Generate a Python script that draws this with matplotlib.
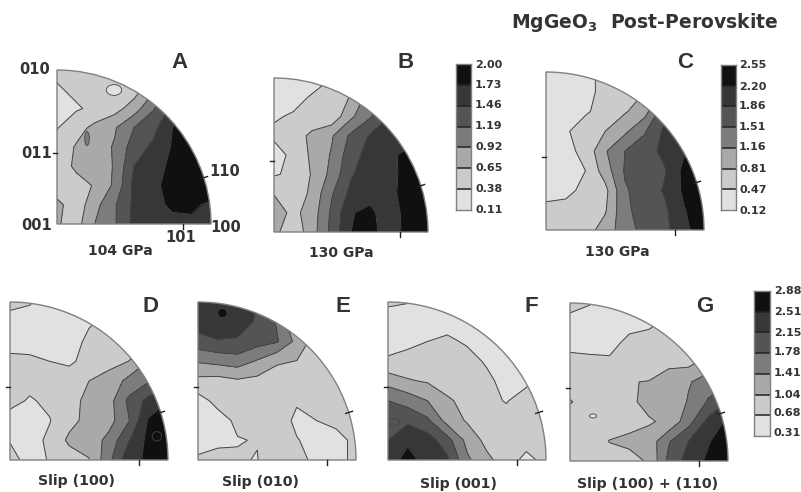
import numpy as np
import matplotlib
matplotlib.use("Agg")
import matplotlib.pyplot as plt
from matplotlib.colors import ListedColormap
from matplotlib.patches import Wedge, Ellipse

W, H = 801, 492
plt.rcParams['font.family'] = 'DejaVu Sans'
plt.rcParams['mathtext.fontset'] = 'dejavusans'

band_colors = ['#e1e1e1', '#cbcbcb', '#a9a9a9', '#7c7c7c', '#545454', '#373737', '#101010']
band_edges = [-1, 1, 2, 3, 4, 5, 6, 9]

# pole-figure intensity read on a 9x9 grid (bottom row first), in units of colour band
panel_a = [[2.1,1.6,3.05,3.9,5.3,5.6,5.7,5.8,5.95],
           [2.3,1.4,2.7,3.9,5.2,5.7,6.2,6.2,5.8],
           [1.3,1.6,2.1,3.2,5.3,5.7,6.5,6.8,6.8],
           [1.4,2.2,2.3,3.1,5.0,5.5,6.3,6.9,7.0],
           [1.3,2.1,2.5,3.1,4.5,5.2,6.1,6.9,7.0],
           [0.95,1.6,2.3,2.9,4.0,4.7,6.0,6.9,7.0],
           [0.6,0.9,1.2,1.6,2.5,3.9,5.3,6.5,7.0],
           [0.9,1.2,1.2,1.1,1.5,2.8,4.5,6.0,7.0],
           [1.2,1.2,1.2,1.2,1.3,2.0,4.0,6.0,7.0]]
panel_b = [[2.3,1.3,2.6,4.3,6.0,6.4,5.4,6.4,6.5],
           [2.6,1.7,2.5,4.2,5.95,6.2,5.5,6.4,6.6],
           [1.95,1.2,2.3,3.9,5.3,5.7,5.7,6.5,6.6],
           [0.9,1.2,2.1,3.3,4.9,5.5,5.7,6.4,6.8],
           [0.5,1.3,2.2,3.1,4.6,5.4,5.8,6.3,6.0],
           [1.2,1.4,2.3,2.9,4.2,5.1,5.3,5.5,6.0],
           [0.9,1.1,1.2,1.3,2.8,3.9,5.0,5.5,6.0],
           [0.4,0.7,1.1,1.2,2.1,3.5,5.0,5.5,6.0],
           [0.3,0.3,0.6,1.0,1.4,2.0,4.0,5.5,6.0]]
panel_c = [[1.2,1.3,1.6,2.4,3.6,4.3,4.7,5.8,6.5],
           [1.3,1.2,1.4,1.9,3.8,4.4,4.8,5.95,6.6],
           [0.6,0.85,1.15,1.7,3.9,4.4,5.1,6.2,6.8],
           [0.4,0.6,1.0,2.5,4.1,4.5,4.9,6.3,6.9],
           [0.3,0.7,1.3,2.9,4.0,4.5,5.3,5.9,6.8],
           [0.3,0.9,1.4,2.0,2.8,3.9,5.2,5.6,6.5],
           [0.3,0.5,0.9,1.3,1.9,2.6,4.7,5.5,6.0],
           [0.3,0.4,0.8,1.2,1.5,2.0,4.0,5.5,6.0],
           [0.3,0.3,0.8,1.2,1.4,1.8,3.5,5.0,6.0]]
panel_d = [[1.3,0.7,1.05,1.5,1.95,3.7,5.7,6.15,6.8],
           [0.95,0.6,1.2,2.2,2.4,3.3,4.9,6.3,7.0],
           [0.6,0.5,0.95,1.7,2.3,2.6,3.9,6.1,6.8],
           [1.3,0.9,1.2,1.6,2.3,2.6,4.2,5.3,6.0],
           [1.3,1.3,1.4,1.6,2.0,2.3,3.3,3.9,4.5],
           [1.2,1.2,1.0,0.8,1.4,1.75,2.0,3.0,3.5],
           [0.7,0.6,0.4,0.6,1.2,1.4,1.6,2.0,2.5],
           [0.6,0.5,0.4,0.6,0.9,1.2,1.3,1.5,2.0],
           [1.3,1.1,0.5,0.5,0.7,0.9,1.2,1.4,1.5]]
panel_e = [[1.15,1.3,1.1,0.95,2.0,1.4,0.7,0.6,1.3],
           [0.6,0.8,0.95,1.05,1.4,1.05,0.7,0.6,1.3],
           [0.5,0.6,1.2,1.4,1.5,0.8,1.0,1.3,1.4],
           [0.6,1.3,1.5,1.6,1.5,1.1,1.3,1.5,1.5],
           [1.7,1.6,1.85,1.7,1.6,1.6,1.6,1.5,1.5],
           [3.1,3.3,3.5,2.9,2.1,1.98,1.9,1.6,1.5],
           [4.6,4.9,4.9,4.4,4.1,2.7,1.5,1.5,1.5],
           [5.5,5.85,5.4,4.9,3.9,1.9,1.5,1.5,1.5],
           [5.3,5.7,5.4,5.0,4.0,2.0,1.5,1.5,1.5]]
panel_f = [[5.5,6.4,5.6,5.2,3.2,2.25,1.5,0.7,1.3],
           [5.0,5.8,5.5,4.4,2.7,1.7,1.4,1.4,1.4],
           [4.4,4.8,4.2,2.6,1.9,1.4,1.3,1.4,1.4],
           [4.0,3.6,3.0,2.05,1.9,1.2,0.95,1.4,1.4],
           [2.6,2.1,1.9,1.85,1.8,1.2,0.7,0.8,1.4],
           [1.15,1.3,1.4,1.4,1.3,0.9,0.5,0.5,1.2],
           [0.6,0.8,1.0,1.15,0.9,0.5,0.4,0.4,0.8],
           [0.4,0.4,0.5,0.7,0.6,0.4,0.4,0.4,0.5],
           [1.2,1.05,0.5,0.4,0.4,0.4,0.4,0.4,0.4]]
panel_g = [[1.2,1.3,1.3,1.7,2.1,4.3,5.4,6.2,6.7],
           [1.3,1.3,2.05,2.2,2.4,3.9,5.0,5.9,6.8],
           [1.3,1.2,1.3,1.7,1.9,2.2,3.6,5.3,6.2],
           [2.1,1.4,1.5,1.8,2.3,2.1,3.1,4.1,5.0],
           [1.3,1.3,1.4,1.95,2.05,2.4,2.9,3.5,4.0],
           [1.2,1.2,1.2,1.1,1.3,1.8,1.7,2.4,3.0],
           [0.8,0.7,0.6,1.3,1.4,1.5,1.5,1.7,2.0],
           [0.7,0.6,0.5,0.6,0.8,1.2,1.3,1.4,1.5],
           [1.3,1.05,0.5,0.5,0.7,0.9,1.1,1.2,1.3]]

# small closed contours too small for the grid: x, y, width, height, band
spots_a = [(0.195,0.555,0.03,0.09,3), (0.37,0.87,0.10,0.07,0)]
spots_b = []
spots_c = []
spots_d = [(0.93,0.15,0.06,0.06,6)]
spots_e = [(0.155,0.93,0.06,0.06,6)]
spots_f = [(0.02,0.24,0.11,0.045,4)]
spots_g = [(0.145,0.285,0.045,0.025,0)]

panel_names = ['A', 'B', 'C', 'D', 'E', 'F', 'G']
panel_data = [panel_a, panel_b, panel_c, panel_d, panel_e, panel_f, panel_g]
panel_spots = [spots_a, spots_b, spots_c, spots_d, spots_e, spots_f, spots_g]

bar_b = ['2.00', '1.73', '1.46', '1.19', '0.92', '0.65', '0.38', '0.11']
bar_c = ['2.55', '2.20', '1.86', '1.51', '1.16', '0.81', '0.47', '0.12']
bar_g = ['2.88', '2.51', '2.15', '1.78', '1.41', '1.04', '0.68', '0.31']

# layout (pixels)
origins = [(57, 224, 154), (274, 232, 154), (546, 230, 158), (10, 460, 158),
           (198, 460, 158), (388, 460, 158), (570, 461, 158)]
letter_pos = [(179, 63), (406, 63), (685, 62), (150, 307), (343, 307), (531, 307), (705, 307)]

TXT = '#333333'
fig = plt.figure(figsize=(W / 100, H / 100), dpi=100, facecolor='white')


def ftext(x, y, s, size=10, ha='center', va='center', **kw):
    kw.setdefault('fontweight', 'bold')
    kw.setdefault('color', TXT)
    fig.text(x / W, 1 - y / H, s, fontsize=size, ha=ha, va=va, **kw)


grid = np.linspace(0, 1, 9)
tick_angle = np.deg2rad(17.5)
for name, data, spots, (ox, oy, R), lp in zip(panel_names, panel_data, panel_spots, origins, letter_pos):
    m = 0.1
    ax = fig.add_axes([(ox - m * R) / W, 1 - (oy + m * R) / H, (1 + 2 * m) * R / W, (1 + 2 * m) * R / H])
    ax.set_xlim(-m, 1 + m)
    ax.set_ylim(-m, 1 + m)
    ax.axis('off')
    clip = Wedge((0, 0), 1, 0, 90, transform=ax.transData)
    z = np.array(data)
    cf = ax.contourf(grid, grid, z, levels=band_edges, colors=band_colors, zorder=1)
    cf.set_clip_path(clip)
    cl = ax.contour(grid, grid, z, levels=np.arange(1, 7), colors='#444444', linewidths=0.7, zorder=2)
    cl.set_clip_path(clip)
    for (sx, sy, sw, sh, b) in spots:
        e = Ellipse((sx, sy), sw, sh, facecolor=band_colors[b], edgecolor='#444444', lw=0.6, zorder=3)
        ax.add_patch(e)
        e.set_clip_path(clip)
    ax.add_patch(Wedge((0, 0), 1, 0, 90, facecolor='none', edgecolor='#808080', lw=1.0, zorder=4))
    # crystal direction ticks
    ax.plot([-0.025, 0], [0.46, 0.46], color='#222222', lw=1, zorder=5, clip_on=False)
    ax.plot([0.815, 0.815], [-0.03, 0], color='#222222', lw=1, zorder=5, clip_on=False)
    ax.plot([0.98 * np.cos(tick_angle), 1.025 * np.cos(tick_angle)],
            [0.98 * np.sin(tick_angle), 1.025 * np.sin(tick_angle)], color='#222222', lw=1, zorder=5, clip_on=False)
    ftext(lp[0], lp[1], name, size=16, family='Liberation Sans')


def colorbar(x0, x1, y0, y1, labels, label_y, label_x):
    ax = fig.add_axes([x0 / W, 1 - y1 / H, (x1 - x0) / W, (y1 - y0) / H])
    vals = [float(v) for v in labels[::-1]]
    ax.pcolormesh([0, 1], vals, np.arange(7).reshape(-1, 1), cmap=ListedColormap(band_colors), vmin=-0.5, vmax=6.5)
    ax.set_ylim(vals[0], vals[-1])
    ax.set_xlim(0, 1)
    ax.set_xticks([])
    ax.set_yticks([])
    for v in vals[1:-1]:
        ax.axhline(v, color='#222222', lw=1.1)
    for s in ax.spines.values():
        s.set_color('#808080')
        s.set_linewidth(1.0)
    for s, y in zip(labels, label_y):
        ftext(label_x, y, s, size=8, ha='left')


colorbar(456, 471, 64, 210, bar_b, [65, 85, 105, 126, 147, 168, 189, 210], 475)
colorbar(721, 736, 65, 210, bar_c, [65, 87, 106, 127, 147, 169, 190, 211], 739)
colorbar(754, 770, 291, 436, bar_g, [291, 312, 333, 352, 373, 395, 413, 433], 774)

ftext(645, 23, r"MgGeO$_{\mathbf{3}}$  Post-Perovskite", size=13.5)
ftext(35, 70, '010', size=10.5)
ftext(37, 153, '011', size=10.5)
ftext(37, 226, '001', size=10.5)
ftext(226, 228, '100', size=10.5)
ftext(225, 172, '110', size=10.5)
ftext(181, 238, '101', size=10.5)
ftext(120, 251, '104 GPa', size=10)
ftext(341, 253, '130 GPa', size=10)
ftext(617, 252, '130 GPa', size=10)
ftext(77, 481, 'Slip (100)', size=10.2)
ftext(261, 482, 'Slip (010)', size=10.2)
ftext(459, 484, 'Slip (001)', size=10.2)
ftext(648, 484, 'Slip (100) + (110)', size=10.2)

fig.savefig('out.png', dpi=100, facecolor='white')
